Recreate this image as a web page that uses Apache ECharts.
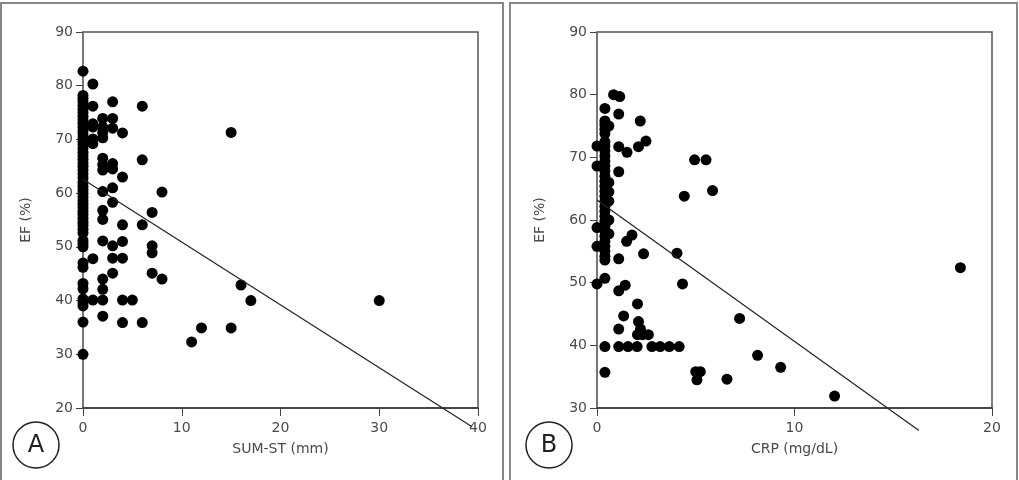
<!DOCTYPE html>
<html>
<head>
<meta charset="utf-8">
<script src="https://cdn.jsdelivr.net/npm/echarts@6/dist/echarts.min.js"></script>
<style>
html, body { margin: 0; padding: 0; background: #fff; }
#main { width: 1019px; height: 480px; }
</style>
</head>
<body>
<div id="main"></div>
<script>
// A: SUM-ST (mm) vs EF (%)
var sumSt = [
    0, 0, 0, 0, 0, 0, 0, 0, 0, 0, 0, 0, 0, 0, 0, 0, 0, 0, 0, 0, 0, 0, 0, 0, 0, 0,
    0, 0, 0, 0, 0, 0, 0, 0, 0, 0, 0, 0, 0, 0, 0, 0, 0, 0, 0, 0, 0, 0, 0, 0, 0, 0,
    1, 1, 1, 1, 1, 1, 1, 1,
    2, 2, 2, 2, 2, 2, 2, 2, 2, 2, 2, 2, 2, 2, 2,
    3, 3, 3, 3, 3, 3, 3, 3, 3, 3,
    4, 4, 4, 4, 4, 4, 4,
    5,
    6, 6, 6, 6,
    7, 7, 7, 7,
    8, 8,
    11, 12, 15, 15, 16, 17, 30
];
var efA = [
    82.7, 78.2, 77.6, 77, 76.3, 75.6, 75, 74.3, 73.6, 73, 72.3, 71.6, 71, 70.3, 69.6, 69, 68.3, 67.6, 67, 66.3, 65.6, 65, 64.3, 63.6, 62.8, 62,
    61.3, 60.6, 60, 59.3, 58.6, 58, 57.3, 56.6, 56, 55.3, 54.6, 54, 53.3, 52.6, 51.2, 50.6, 50, 47, 46.2, 43.2, 42.2, 40.3, 39.6, 39, 36, 30,
    80.3, 76.2, 72.9, 72.3, 70.1, 69.2, 47.8, 40.1,
    73.9, 72.3, 71.3, 70.3, 66.5, 65.3, 64.3, 60.3, 56.8, 55.1, 51.1, 44, 42.1, 40.1, 37.1,
    77, 73.9, 72.1, 65.5, 64.5, 61, 58.3, 50.2, 47.9, 45.1,
    71.2, 63, 54.1, 51, 47.9, 40.1, 35.9,
    40.1,
    76.2, 66.2, 54.1, 35.9,
    56.4, 50.2, 48.9, 45.1,
    60.2, 44,
    32.3, 34.9, 71.3, 34.9, 42.9, 40, 40
];
var fitA = [[0, 62.6], [39.4, 16.5]];

// B: CRP (mg/dL) vs EF (%)
var crp = [
    0, 0, 0, 0, 0,
    0.4, 0.4, 0.4, 0.4, 0.4, 0.4, 0.4, 0.4, 0.4, 0.4, 0.4, 0.4, 0.4, 0.4, 0.4, 0.4, 0.4,
    0.4, 0.4, 0.4, 0.4, 0.4, 0.4, 0.4, 0.4, 0.4, 0.4, 0.4, 0.4, 0.4, 0.4, 0.4, 0.4,
    0.6, 0.6, 0.6, 0.6, 0.6, 0.6,
    0.84, 1.15, 1.1, 1.1, 1.1, 1.1, 1.1, 1.1, 1.1,
    1.43, 1.35, 1.52, 1.5, 1.77, 1.57,
    2.03, 2.05, 2.1, 2.2, 2.3, 2.6, 2.05,
    2.19, 2.48, 2.1, 2.36,
    2.78, 3.2, 3.66, 4.16,
    4.05, 4.33, 4.42, 4.94, 5.52, 5.85, 7.22, 8.13, 9.3, 12.03, 6.58, 5.0, 5.23, 5.06, 18.4
];
var efB = [
    71.8, 68.6, 58.8, 55.8, 49.8,
    77.8, 75.8, 75.2, 74.5, 73.8, 72.5, 71.8, 71, 70.2, 69.4, 68.6, 67.8, 67, 66.2, 65.4, 64.6, 63.8,
    63, 62.2, 61.4, 60.6, 59.8, 59, 58.2, 57.4, 56.6, 55.8, 55, 54.2, 53.6, 50.7, 39.8, 35.7,
    75, 66, 64.5, 63, 60, 57.8,
    80, 79.7, 76.9, 71.7, 67.7, 53.8, 48.7, 42.6, 39.8,
    49.6, 44.7, 70.8, 56.6, 57.6, 39.8,
    39.8, 46.6, 43.8, 42.6, 41.7, 41.7, 41.7,
    75.8, 72.6, 71.7, 54.6,
    39.8, 39.8, 39.8, 39.8,
    54.7, 49.8, 63.8, 69.6, 69.6, 64.7, 44.3, 38.4, 36.5, 31.9, 34.6, 35.8, 35.8, 34.5, 52.4
];
var fitB = [[0, 63.2], [16.3, 26.4]];

function zip(xs, ys) {
    var out = [];
    for (var i = 0; i < xs.length; i++) out.push([xs[i], ys[i]]);
    return out;
}

var font = 'DejaVu Sans';
var textColor = '#4a4a4a';

function xAx(idx, max, name) {
    return {
        gridIndex: idx, type: 'value', min: 0, max: max, interval: 10,
        name: name, nameLocation: 'middle', nameGap: 34,
        nameTextStyle: { color: textColor, fontSize: 14, fontFamily: font },
        axisLine: { lineStyle: { color: '#333', width: 1.5 } },
        axisTick: { length: 8, lineStyle: { color: '#444', width: 1 } },
        axisLabel: { color: textColor, fontSize: 14, fontFamily: font, margin: 13 },
        splitLine: { show: false }
    };
}
function yAx(idx, min) {
    return {
        gridIndex: idx, type: 'value', min: min, max: 90, interval: 10,
        name: 'EF (%)', nameLocation: 'middle', nameGap: 50, nameRotate: 90,
        nameTextStyle: { color: textColor, fontSize: 14, fontFamily: font },
        axisLine: { lineStyle: { color: '#777', width: 2 } },
        axisTick: { length: 7, lineStyle: { color: '#444', width: 1 } },
        axisLabel: { color: textColor, fontSize: 14, fontFamily: font, margin: 10 },
        splitLine: { show: false }
    };
}

var dot = { color: '#000', opacity: 1 };

var chart = echarts.init(document.getElementById('main'));
chart.setOption({
    animation: false,
    backgroundColor: '#fff',
    grid: [
        { left: 83, top: 32, width: 395, height: 376, show: true, borderColor: '#555', borderWidth: 1.5, outerBoundsMode: 'none' },
        { left: 597, top: 32, width: 395, height: 376, show: true, borderColor: '#555', borderWidth: 1.5, outerBoundsMode: 'none' }
    ],
    xAxis: [xAx(0, 40, 'SUM-ST (mm)'), xAx(1, 20, 'CRP (mg/dL)')],
    yAxis: [yAx(0, 20), yAx(1, 30)],
    series: [
        { type: 'line', xAxisIndex: 0, yAxisIndex: 0, clip: false, symbol: 'none', lineStyle: { color: '#222', width: 1.2 }, data: fitA },
        { type: 'scatter', xAxisIndex: 0, yAxisIndex: 0, symbolSize: 11, itemStyle: dot, data: zip(sumSt, efA) },
        { type: 'line', xAxisIndex: 1, yAxisIndex: 1, clip: false, symbol: 'none', lineStyle: { color: '#222', width: 1.2 }, data: fitB },
        { type: 'scatter', xAxisIndex: 1, yAxisIndex: 1, symbolSize: 11, itemStyle: dot, data: zip(crp, efB) }
    ],
    graphic: [
        // panel frames
        { type: 'rect', shape: { x: 1, y: 3, width: 502, height: 490 }, style: { fill: 'none', stroke: '#888', lineWidth: 2 }, z: -1 },
        { type: 'rect', shape: { x: 510, y: 3, width: 507, height: 490 }, style: { fill: 'none', stroke: '#888', lineWidth: 2 }, z: -1 },
        // panel letters
        { type: 'circle', shape: { cx: 36, cy: 445, r: 23 }, style: { fill: '#fff', stroke: '#222', lineWidth: 1.5 } },
        { type: 'text', x: 36, y: 446, style: { text: 'A', fontSize: 24, fontFamily: font, fill: '#222', align: 'center', verticalAlign: 'middle' } },
        { type: 'circle', shape: { cx: 549, cy: 445, r: 23 }, style: { fill: '#fff', stroke: '#222', lineWidth: 1.5 } },
        { type: 'text', x: 549, y: 446, style: { text: 'B', fontSize: 24, fontFamily: font, fill: '#222', align: 'center', verticalAlign: 'middle' } }
    ]
});
</script>
</body>
</html>
